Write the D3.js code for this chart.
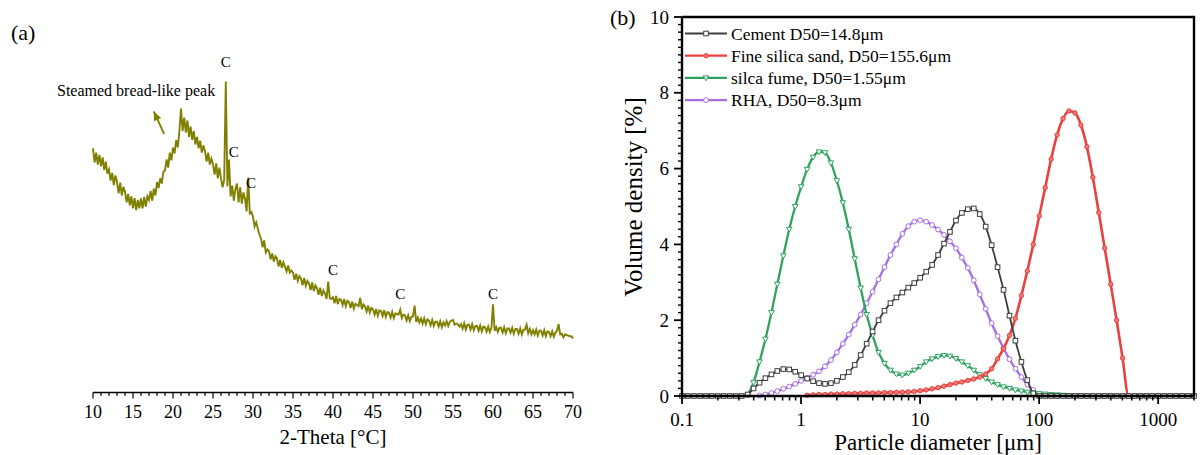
<!DOCTYPE html>
<html>
<head>
<meta charset="utf-8">
<script src="https://cdn.jsdelivr.net/npm/d3@7"></script>
<style>
  html, body { margin: 0; padding: 0; background: #fff; }
  svg { display: block; font-family: "Liberation Serif", "Times New Roman", serif; }
</style>
</head>
<body>
<svg id="chart" width="1201" height="455"></svg>
<script>
// ---------- (a) XRD pattern ----------
// Diffractometer step: 0.2° from 10° to 70°
const thetaStart = 10;
const thetaStep = 0.2;
// Intensity (counts), one row of five steps per degree
const xrdIntensity = [
  812, 765, 798, 758, 790,
  752, 782, 740, 768, 728,
  742, 705, 730, 690, 722,
  700, 662, 698, 655, 684,
  668, 632, 660, 622, 652,
  612, 646, 606, 640, 612,
  645, 612, 650, 618, 652,
  640, 670, 638, 678, 655,
  700, 680, 712, 695, 735,
  738, 775, 748, 798, 772,
  815, 795, 840, 815, 870,
  945, 870, 915, 865, 905,
  850, 885, 840, 870, 825,
  850, 812, 838, 798, 822,
  802, 768, 798, 758, 778,
  758, 725, 762, 712, 748,
  712, 682, 708, 1035, 685,
  775, 652, 688, 638, 676,
  695, 632, 682, 628, 665,
  645, 602, 715, 595, 600,
  585, 552, 565, 545, 525,
  512, 482, 505, 465, 475,
  470, 442, 462, 435, 452,
  445, 418, 440, 414, 432,
  418, 402, 422, 398, 405,
  398, 374, 394, 370, 386,
  378, 356, 380, 354, 370,
  362, 340, 365, 336, 355,
  346, 324, 348, 320, 338,
  328, 310, 368, 312, 310,
  316, 296, 320, 293, 310,
  308, 290, 310, 286, 304,
  300, 280, 302, 278, 294,
  290, 286, 314, 276, 292,
  285, 268, 288, 265, 280,
  275, 258, 277, 254, 272,
  270, 253, 273, 250, 266,
  265, 248, 267, 246, 262,
  260, 258, 274, 246, 258,
  255, 238, 256, 236, 250,
  252, 288, 234, 248, 232,
  245, 228, 246, 226, 242,
  238, 222, 240, 220, 234,
  234, 218, 236, 216, 232,
  222, 236, 220, 234, 238,
  240, 224, 228, 226, 218,
  226, 211, 229, 208, 224,
  224, 208, 226, 206, 220,
  220, 204, 222, 202, 218,
  216, 201, 218, 200, 214,
  292, 204, 216, 200, 214,
  214, 198, 216, 196, 212,
  212, 198, 214, 194, 210,
  210, 194, 212, 192, 208,
  208, 224, 196, 210, 192,
  206, 192, 208, 188, 204,
  204, 188, 206, 186, 202,
  200, 186, 202, 184, 198,
  204, 226, 192, 194, 182,
  192, 190, 188, 186, 186,
  178
];
const xrdTicks = [10, 15, 20, 25, 30, 35, 40, 45, 50, 55, 60, 65, 70];
// Calcite reflections: [2θ, intensity] where each "C" is written
const calciteLabels = [[26.6, 1100], [27.6, 800], [29.75, 697], [40.0, 407], [48.4, 327], [60.0, 327]];
const humpNote = { text: "Steamed bread-like peak", at: [5.5, 1007] };
const humpArrow = { from: [18.9, 860], to: [17.6, 935] };

// ---------- (b) particle size distribution ----------
const sizeBins = [
  0.1, 0.112, 0.126, 0.142, 0.159, 0.178, 0.2, 0.224, 0.252, 0.283,
  0.317, 0.356, 0.399, 0.448, 0.502, 0.564, 0.632, 0.71, 0.796, 0.893,
  1.002, 1.125, 1.262, 1.416, 1.589, 1.783, 2, 2.244, 2.518, 2.825,
  3.17, 3.557, 3.991, 4.477, 5.024, 5.637, 6.325, 7.096, 7.962, 8.934,
  10.024, 11.247, 12.619, 14.159, 15.887, 17.825, 20, 22.44, 25.179, 28.251,
  31.698, 35.566, 39.905, 44.774, 50.238, 56.368, 63.246, 70.963, 79.621, 89.337,
  100.237, 112.468, 126.191, 141.589, 158.866, 178.25, 200, 224.404, 251.785, 282.508,
  316.979, 355.656, 399.052, 447.744, 502.377, 563.677, 632.456, 709.627, 796.214, 893.367,
  1002.374, 1124.683, 1261.915, 1415.892, 1588.656, 1782.502, 2000
];
const cement = [
  0, 0, 0, 0, 0, 0, 0, 0, 0, 0,
  0, 0.04, 0.2, 0.35, 0.47, 0.57, 0.66, 0.71, 0.7, 0.64,
  0.55, 0.46, 0.39, 0.34, 0.32, 0.34, 0.4, 0.5, 0.63, 0.82,
  1.08, 1.38, 1.7, 2.0, 2.25, 2.45, 2.6, 2.73, 2.86, 2.98,
  3.12, 3.28, 3.46, 3.72, 4.02, 4.33, 4.63, 4.83, 4.93, 4.95,
  4.8, 4.47, 3.98, 3.4, 2.8, 2.12, 1.46, 0.9, 0.42, 0.07,
  0, 0, 0, 0, 0, 0, 0, 0, 0, 0,
  0, 0, 0, 0, 0, 0, 0, 0, 0, 0,
  0, 0, 0, 0, 0, 0, 0
];
const silicaSand = [
  null, null, null, null, null, null, null, null, null, null,
  null, null, null, null, null, null, null, null, null, null,
  null, 0.02, 0.03, 0.04, 0.04, 0.05, 0.05, 0.06, 0.06, 0.07,
  0.07, 0.08, 0.08, 0.08, 0.09, 0.09, 0.1, 0.1, 0.11, 0.12,
  0.14, 0.16, 0.19, 0.22, 0.26, 0.3, 0.34, 0.37, 0.41, 0.45,
  0.5, 0.58, 0.72, 0.98, 1.25, 1.6, 2.05, 2.65, 3.3, 4.0,
  4.75, 5.5, 6.25, 6.89, 7.32, 7.52, 7.47, 7.15, 6.58, 5.77,
  4.84, 3.9, 2.95, 2.0, 1.0, 0, 0, 0, 0, 0,
  0, 0, 0, 0, 0, 0, 0
];
const silicaFume = [
  null, null, null, null, null, null, null, null, null, null,
  null, 0.02, 0.35, 0.9, 1.5, 2.2, 2.95, 3.7, 4.4, 5.0,
  5.52, 5.98, 6.3, 6.44, 6.42, 6.15, 5.68, 5.1, 4.4, 3.62,
  2.85, 2.15, 1.6, 1.15, 0.86, 0.68, 0.58, 0.55, 0.6, 0.68,
  0.78, 0.9, 0.98, 1.04, 1.07, 1.05, 0.99, 0.9, 0.8, 0.68,
  0.56, 0.46, 0.37, 0.3, 0.24, 0.2, 0.16, 0.13, 0.1, 0.08,
  0.06, 0.05, 0.04, 0.03, 0.02, 0.01, 0.01, 0, 0, 0,
  0, 0, 0, 0, 0, 0, 0, 0, 0, 0,
  0, 0, 0, 0, 0, 0, 0
];
const rha = [
  null, null, null, null, null, null, null, null, null, null,
  null, null, null, 0.01, 0.04, 0.08, 0.13, 0.19, 0.25, 0.32,
  0.4, 0.48, 0.56, 0.65, 0.78, 0.95, 1.15, 1.38, 1.62, 1.88,
  2.15, 2.45, 2.75, 3.08, 3.4, 3.72, 4.0, 4.28, 4.48, 4.6,
  4.64, 4.6, 4.51, 4.39, 4.25, 4.08, 3.9, 3.65, 3.38, 3.05,
  2.68, 2.3, 1.92, 1.58, 1.26, 0.97, 0.72, 0.5, 0.3, 0.16,
  0.06, 0.02, 0, 0, 0, 0, 0, 0, 0, 0,
  0, 0, 0, 0, 0, 0, 0, 0, 0, 0,
  0, 0, 0, 0, 0, 0, 0
];
const seriesNames = ["Cement D50=14.8\u03bcm", "Fine silica sand, D50=155.6\u03bcm", "silca fume, D50=1.55\u03bcm", "RHA, D50=8.3\u03bcm"];
const seriesColors = ["#3d3d3d", "#e8413f", "#2ea35f", "#a66fe2"];
const seriesMarkers = ["square", "dot", "triangle", "circle"];
const psdXTicks = [0.1, 1, 10, 100, 1000];
const psdYTicks = [0, 2, 4, 6, 8, 10];

const svg = d3.select("#chart");

// ================= panel (a) =================
const xA = d3.scaleLinear().domain([10, 70]).range([93, 573]);
const yA = d3.scaleLinear().domain([0, 1000]).range([392, 92]);
const olive = "#808000";

const xrdPoints = xrdIntensity.map((v, i) => [thetaStart + i * thetaStep, v]);

const gA = svg.append("g");
gA.append("path")
  .datum(xrdPoints)
  .attr("fill", "none")
  .attr("stroke", olive)
  .attr("stroke-width", 1.9)
  .attr("stroke-linejoin", "miter")
  .attr("d", d3.line().x(d => xA(d[0])).y(d => yA(d[1])));

// bottom axis with minor ticks every degree
const axisA = gA.append("g").attr("transform", "translate(0,392.5)");
axisA.append("line").attr("x1", xA(10)).attr("x2", xA(70)).attr("stroke", "#000").attr("stroke-width", 1.5);
axisA.selectAll("line.minor").data(d3.range(10, 71, 1)).join("line")
  .attr("class", "minor")
  .attr("x1", d => xA(d)).attr("x2", d => xA(d))
  .attr("y1", 0).attr("y2", d => (d % 5 === 0 ? 6 : 3.5))
  .attr("stroke", "#000").attr("stroke-width", 1.2);
axisA.selectAll("text").data(xrdTicks).join("text")
  .attr("x", d => xA(d)).attr("y", 25)
  .attr("text-anchor", "middle")
  .attr("font-size", 18)
  .text(d => d);
gA.append("text")
  .attr("x", (xA(10) + xA(70)) / 2).attr("y", 444)
  .attr("text-anchor", "middle").attr("font-size", 21)
  .text("2-Theta [\u00b0C]");

gA.selectAll("text.peak").data(calciteLabels).join("text")
  .attr("class", "peak")
  .attr("x", d => xA(d[0])).attr("y", d => yA(d[1]))
  .attr("dy", "0.35em").attr("text-anchor", "middle")
  .attr("font-size", 15).text("C");

gA.append("text")
  .attr("x", xA(humpNote.at[0])).attr("y", yA(humpNote.at[1]))
  .attr("dy", "0.35em").attr("font-size", 16)
  .text(humpNote.text);

// arrow pointing at the amorphous hump
const ax1 = xA(humpArrow.from[0]), ay1 = yA(humpArrow.from[1]);
const ax2 = xA(humpArrow.to[0]), ay2 = yA(humpArrow.to[1]);
gA.append("line").attr("x1", ax1).attr("y1", ay1).attr("x2", ax2).attr("y2", ay2)
  .attr("stroke", olive).attr("stroke-width", 1.8);
{
  const ang = Math.atan2(ay2 - ay1, ax2 - ax1);
  const L = 9, W = 4;
  const bx = ax2 - L * Math.cos(ang), by = ay2 - L * Math.sin(ang);
  const px = -Math.sin(ang) * W, py = Math.cos(ang) * W;
  gA.append("path")
    .attr("d", `M${ax2},${ay2}L${bx + px},${by + py}L${bx - px},${by - py}Z`)
    .attr("fill", olive);
}

svg.append("text").attr("x", 11).attr("y", 40).attr("font-size", 22).text("(a)");

// ================= panel (b) =================
const xB = d3.scaleLog().domain([0.1, 2000]).range([682, 1194]);
const yB = d3.scaleLinear().domain([0, 10]).range([396, 17]);
const gB = svg.append("g");

const seriesData = [cement, silicaSand, silicaFume, rha];

function drawMarker(sel, kind, color) {
  if (kind === "square") {
    sel.append("rect").attr("x", -2.3).attr("y", -2.3).attr("width", 4.6).attr("height", 4.6)
      .attr("fill", "#fff").attr("stroke", color).attr("stroke-width", 1);
  } else if (kind === "dot") {
    sel.append("circle").attr("r", 2.2).attr("fill", "#f07a76").attr("stroke", color).attr("stroke-width", 1);
  } else if (kind === "triangle") {
    sel.append("path").attr("d", "M-2.8,-2L2.8,-2L0,2.8Z")
      .attr("fill", "#fff").attr("stroke", color).attr("stroke-width", 1);
  } else {
    sel.append("circle").attr("r", 2.4).attr("fill", "#fff").attr("stroke", color).attr("stroke-width", 1);
  }
}

const lineB = d3.line()
  .defined(d => d[1] !== null)
  .x(d => xB(d[0])).y(d => yB(d[1]))
  .curve(d3.curveMonotoneX);

// drawn last-to-first so cement ends on top
[3, 2, 1, 0].forEach(k => {
  const pts = sizeBins.map((s, i) => [s, seriesData[k][i]]);
  const g = gB.append("g");
  g.append("path").datum(pts)
    .attr("fill", "none").attr("stroke", seriesColors[k])
    .attr("stroke-width", k === 0 ? 1.8 : (k === 1 ? 2.6 : 2.3))
    .attr("d", lineB);
  const mk = g.selectAll("g.m").data(pts.filter(d => d[1] !== null)).join("g")
    .attr("class", "m")
    .attr("transform", d => `translate(${xB(d[0])},${yB(d[1])})`);
  mk.each(function () { drawMarker(d3.select(this), seriesMarkers[k], seriesColors[k]); });
});

// axes and frame
const frame = gB.append("g");
frame.append("path")
  .attr("d", `M${xB(0.1)},${yB(10)}H${xB(2000)}V${yB(0)}`)
  .attr("fill", "none").attr("stroke", "#000").attr("stroke-width", 2.4);

const bottom = gB.append("g").attr("transform", `translate(0,${yB(0)})`);
const minorX = [];
[0.1, 1, 10, 100, 1000].forEach(dec => { for (let m = 2; m <= 9; m++) { if (dec * m <= 2000) minorX.push(dec * m); } });
bottom.append("line").attr("x1", xB(0.1)).attr("x2", xB(2000)).attr("stroke", "#000").attr("stroke-width", 2.4);
bottom.selectAll("line.mn").data(minorX).join("line").attr("class", "mn")
  .attr("x1", d => xB(d)).attr("x2", d => xB(d)).attr("y1", 0).attr("y2", 4.5)
  .attr("stroke", "#000").attr("stroke-width", 1.5);
bottom.selectAll("line.mj").data(psdXTicks).join("line").attr("class", "mj")
  .attr("x1", d => xB(d)).attr("x2", d => xB(d)).attr("y1", 0).attr("y2", 8)
  .attr("stroke", "#000").attr("stroke-width", 1.8);
bottom.selectAll("text").data(psdXTicks).join("text")
  .attr("x", d => xB(d)).attr("y", 30)
  .attr("text-anchor", "middle").attr("font-size", 19)
  .text(d => d3.format("~g")(d));

const left = gB.append("g").attr("transform", `translate(${xB(0.1)},0)`);
left.append("line").attr("y1", yB(0)).attr("y2", yB(10)).attr("stroke", "#000").attr("stroke-width", 2.4);
left.selectAll("line.mn").data(d3.range(0, 50).map(i => i * 0.2).filter(v => Math.abs(v / 2 - Math.round(v / 2)) > 1e-6)).join("line")
  .attr("class", "mn")
  .attr("x1", 0).attr("x2", -4).attr("y1", d => yB(d)).attr("y2", d => yB(d))
  .attr("stroke", "#000").attr("stroke-width", 1.4);
left.selectAll("line.mj").data(psdYTicks).join("line").attr("class", "mj")
  .attr("x1", 0).attr("x2", -8).attr("y1", d => yB(d)).attr("y2", d => yB(d))
  .attr("stroke", "#000").attr("stroke-width", 1.8);
left.selectAll("text").data(psdYTicks).join("text")
  .attr("x", -13).attr("y", d => yB(d)).attr("dy", "0.35em")
  .attr("text-anchor", "end").attr("font-size", 19)
  .text(d => d);

gB.append("text")
  .attr("transform", "translate(633,197) rotate(-90)")
  .attr("text-anchor", "middle").attr("dy", "0.35em").attr("font-size", 25)
  .text("Volume density [%]");
gB.append("text")
  .attr("x", (xB(0.1) + xB(2000)) / 2).attr("y", 450)
  .attr("text-anchor", "middle").attr("font-size", 23)
  .text("Particle diameter [\u03bcm]");

// legend
const legend = gB.append("g");
seriesNames.forEach((name, k) => {
  const y = 33.5 + k * 22.2;
  const row = legend.append("g");
  row.append("line").attr("x1", 685).attr("x2", 727).attr("y1", y).attr("y2", y)
    .attr("stroke", seriesColors[k]).attr("stroke-width", 2.2);
  const m = row.append("g").attr("transform", `translate(706,${y})`);
  drawMarker(m, seriesMarkers[k], seriesColors[k]);
  row.append("text").attr("x", 731).attr("y", y).attr("dy", "0.35em")
    .attr("font-size", 17.5).text(name);
});

svg.append("text").attr("x", 610).attr("y", 25).attr("font-size", 22).text("(b)");
</script>
</body>
</html>
